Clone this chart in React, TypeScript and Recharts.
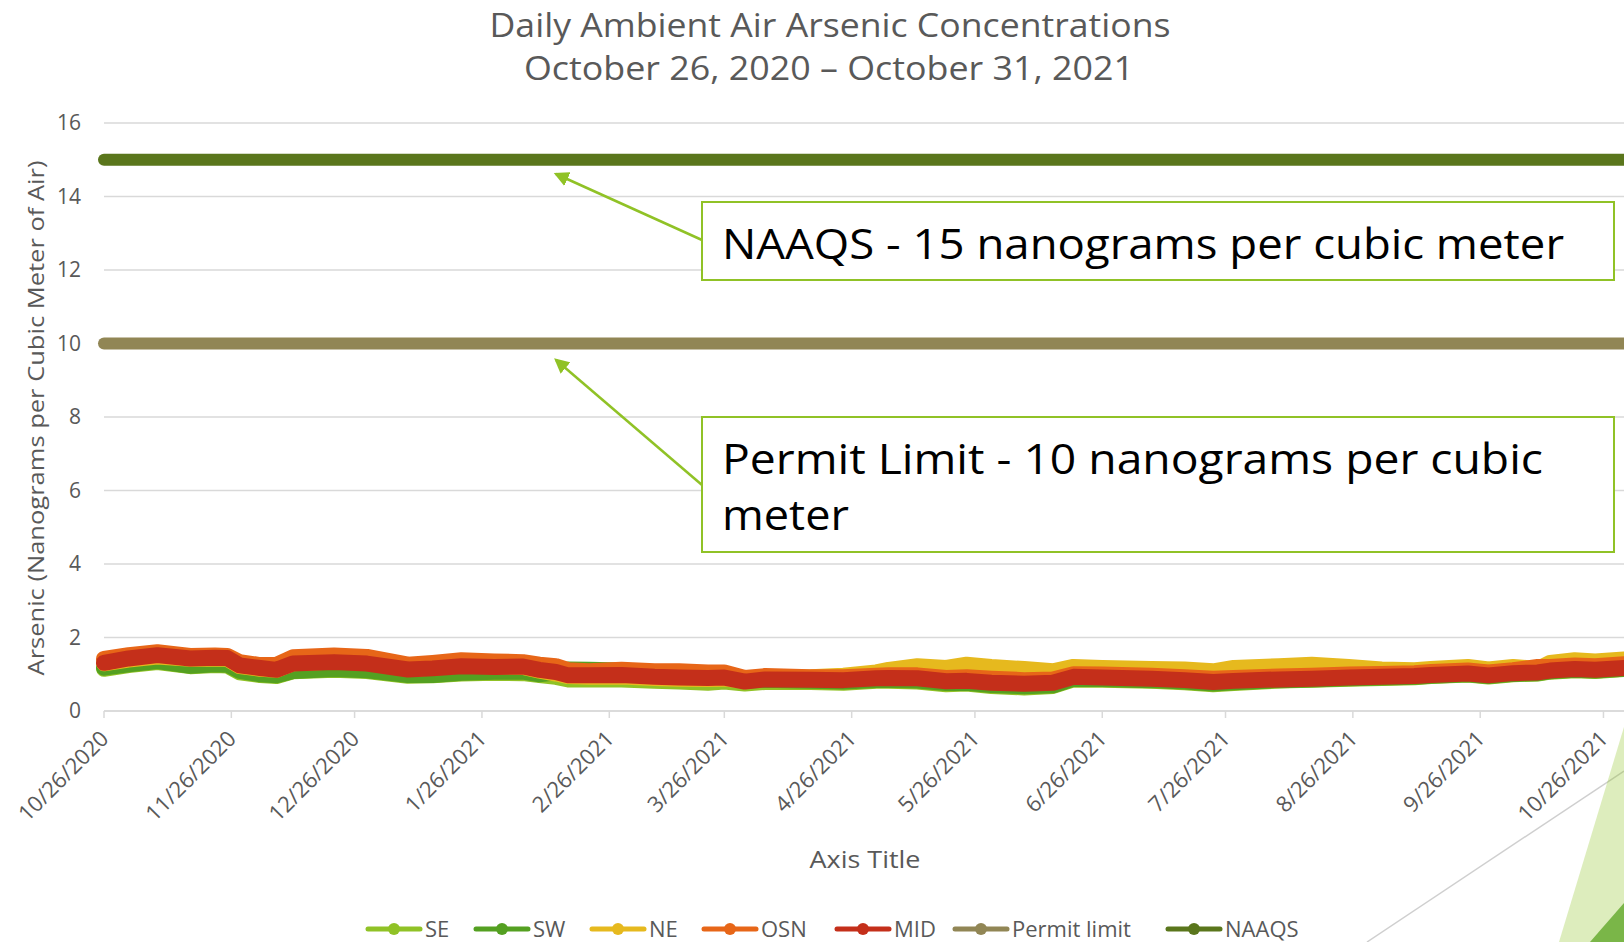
import { LineChart, Line, XAxis, YAxis, CartesianGrid } from "recharts";

// sample dates (read off the picture roughly weekly)
const sampleDates = [
  "10/26/2020", "11/1/2020", "11/8/2020", "11/16/2020", "11/22/2020", "11/25/2020", "11/28/2020",
  "12/3/2020", "12/7/2020", "12/11/2020", "12/21/2020", "12/29/2020", "1/8/2021", "1/14/2021",
  "1/21/2021", "1/29/2021", "2/5/2021", "2/9/2021", "2/13/2021", "2/16/2021", "2/21/2021",
  "3/1/2021", "3/9/2021", "3/15/2021", "3/22/2021", "3/26/2021", "3/31/2021", "4/5/2021",
  "4/16/2021", "4/24/2021", "5/2/2021", "5/5/2021", "5/12/2021", "5/19/2021", "5/24/2021",
  "5/30/2021", "6/7/2021", "6/14/2021", "6/19/2021", "6/26/2021", "7/8/2021", "7/16/2021",
  "7/23/2021", "7/28/2021", "8/8/2021", "8/16/2021", "8/25/2021", "9/2/2021", "9/10/2021",
  "9/14/2021", "9/23/2021", "9/28/2021", "10/4/2021", "10/10/2021", "10/13/2021", "10/19/2021",
  "10/24/2021", "10/31/2021",
];

const midValues = [
  1.31, 1.43, 1.52, 1.43, 1.45, 1.44, 1.24, 1.17, 1.12, 1.29, 1.33, 1.29, 1.13, 1.16,
  1.22, 1.20, 1.21, 1.12, 1.06, 0.97, 0.97, 0.98, 0.93, 0.91, 0.90, 0.91, 0.80, 0.86,
  0.85, 0.84, 0.89, 0.90, 0.89, 0.81, 0.82, 0.77, 0.74, 0.77, 0.93, 0.91, 0.88, 0.84,
  0.79, 0.82, 0.86, 0.88, 0.91, 0.93, 0.95, 0.98, 1.02, 0.97, 1.03, 1.05, 1.10, 1.14,
  1.12, 1.17,
];
const osnValues = [
  1.42, 1.52, 1.60, 1.50, 1.51, 1.50, 1.33, 1.25, 1.26, 1.46, 1.51, 1.47, 1.26, 1.31,
  1.38, 1.35, 1.33, 1.26, 1.22, 1.11, 1.08, 1.12, 1.08, 1.08, 1.05, 1.05, 0.90, 0.95,
  0.92, 0.92, 0.96, 0.97, 0.97, 0.90, 0.92, 0.88, 0.84, 0.86, 1.00, 0.99, 0.96, 0.92,
  0.88, 0.90, 0.94, 0.96, 0.99, 1.01, 1.03, 1.06, 1.10, 1.05, 1.11, 1.20, 1.20, 1.24,
  1.22, 1.27,
];
const neValues = [
  1.30, 1.40, 1.48, 1.42, 1.43, 1.42, 1.22, 1.15, 1.12, 1.30, 1.35, 1.32, 1.15, 1.18,
  1.24, 1.22, 1.20, 1.10, 1.02, 0.95, 0.93, 0.94, 0.90, 0.88, 0.87, 0.88, 0.82, 0.90,
  0.92, 0.96, 1.05, 1.12, 1.22, 1.17, 1.26, 1.20, 1.14, 1.08, 1.20, 1.17, 1.14, 1.13,
  1.08, 1.17, 1.22, 1.26, 1.20, 1.13, 1.11, 1.14, 1.20, 1.13, 1.20, 1.14, 1.31, 1.38,
  1.35, 1.40,
];
const swValues = [
  1.18, 1.27, 1.36, 1.23, 1.27, 1.26, 1.09, 1.00, 0.97, 1.09, 1.14, 1.11, 0.98, 0.98,
  1.04, 1.07, 1.07, 1.00, 1.05, 1.13, 1.12, 1.10, 1.05, 1.02, 0.95, 0.93, 0.82, 0.85,
  0.82, 0.80, 0.84, 0.85, 0.83, 0.76, 0.77, 0.71, 0.67, 0.70, 0.88, 0.87, 0.84, 0.80,
  0.75, 0.78, 0.84, 0.86, 0.89, 0.91, 0.93, 0.96, 1.00, 0.95, 1.01, 1.03, 1.08, 1.12,
  1.10, 1.15,
];
const seValues = [
  1.15, 1.25, 1.33, 1.22, 1.25, 1.24, 1.05, 0.98, 0.95, 1.08, 1.12, 1.09, 0.96, 0.97,
  1.02, 1.04, 1.03, 0.98, 0.93, 0.86, 0.86, 0.86, 0.82, 0.80, 0.77, 0.80, 0.75, 0.79,
  0.79, 0.77, 0.82, 0.82, 0.80, 0.73, 0.75, 0.68, 0.64, 0.68, 0.86, 0.85, 0.82, 0.78,
  0.73, 0.76, 0.83, 0.85, 0.88, 0.90, 0.92, 0.95, 0.99, 0.94, 1.00, 1.02, 1.07, 1.11,
  1.09, 1.14,
];
const permitLimit = 10;
const naaqsLimit = 15;

const tickDates = [
  "10/26/2020", "11/26/2020", "12/26/2020", "1/26/2021", "2/26/2021", "3/26/2021", "4/26/2021",
  "5/26/2021", "6/26/2021", "7/26/2021", "8/26/2021", "9/26/2021", "10/26/2021",
];
const yTicks = [0, 2, 4, 6, 8, 10, 12, 14, 16];
const lastDate = "10/31/2021";

const seriesNames = ["SE", "SW", "NE", "OSN", "MID", "Permit limit", "NAAQS"];
const seriesColors = ["#90C226", "#54A021", "#E6B91E", "#E76618", "#C42F1A", "#918655", "#5A761C"];

const START = Date.UTC(2020, 9, 26);
const dayOf = (s: string) => {
  const [m, d, y] = s.split("/").map(Number);
  return Math.round((Date.UTC(y, m - 1, d) - START) / 86400000);
};

const data = sampleDates.map((d, i) => ({
  day: dayOf(d),
  SE: seValues[i],
  SW: swValues[i],
  NE: neValues[i],
  OSN: osnValues[i],
  MID: midValues[i],
  "Permit limit": permitLimit,
  NAAQS: naaqsLimit,
}));

const tickLabel: Record<number, string> = {};
tickDates.forEach((d) => (tickLabel[dayOf(d)] = d));

const FONT = "'Liberation Sans Narrow', 'Open Sans', sans-serif";
const GREY = "#595959";

function DateTick(props: any) {
  const { x, y, payload } = props;
  return (
    <g transform={`translate(${x + 6},${y + 20})`}>
      <text textAnchor="end" transform="rotate(-45)" fontSize={22} fill={GREY} fontFamily={FONT}>
        {tickLabel[payload.value]}
      </text>
    </g>
  );
}

// legend layout (x of line start)
const legendX = [368, 476, 592, 704, 837, 955, 1168];

export default function App() {
  return (
    <div style={{ position: "relative", width: 1624, height: 942, overflow: "hidden", background: "#fff" }}>
      <style>{"body{margin:0;overflow:hidden}"}</style>
      <LineChart width={1624} height={942} data={data} margin={{ top: 123, right: 0, bottom: 111, left: 44 }}>
        <CartesianGrid vertical={false} stroke="#d9d9d9" strokeWidth={1.5} />
        <XAxis
          type="number"
          dataKey="day"
          domain={[0, dayOf(lastDate)]}
          ticks={tickDates.map(dayOf)}
          interval={0}
          height={120}
          tick={<DateTick />}
          tickSize={7}
          stroke="#d9d9d9"
          axisLine={{ stroke: "#d9d9d9", strokeWidth: 1.5 }}
          tickLine={{ stroke: "#d9d9d9", strokeWidth: 1.5 }}
        />
        <YAxis
          width={60}
          domain={[0, 16]}
          ticks={yTicks}
          axisLine={false}
          tickLine={false}
          tickSize={6}
          tickMargin={17}
          tick={{ fontSize: 21, fill: GREY, fontFamily: FONT }}
        />
        {seriesNames.map((name, i) => (
          <Line
            key={name}
            type="linear"
            dataKey={name}
            stroke={seriesColors[i]}
            strokeWidth={i < 5 ? 16 : 12}
            strokeLinecap="round"
            strokeLinejoin="round"
            dot={false}
            isAnimationActive={false}
          />
        ))}
      </LineChart>
      <svg width={1624} height={942} style={{ position: "absolute", left: 0, top: 0, pointerEvents: "none" }}>
        <defs>
          <marker id="arr" markerWidth="6" markerHeight="6" refX="5" refY="3" orient="auto" markerUnits="strokeWidth">
            <path d="M0,0 L6,3 L0,6 z" fill="#90C226" />
          </marker>
        </defs>
        {/* title */}
        <text x={830} y={37} textAnchor="middle" fontSize={33} fill={GREY} fontFamily={FONT} textLength={681} lengthAdjust="spacingAndGlyphs">
          Daily Ambient Air Arsenic Concentrations
        </text>
        <text x={829} y={80} textAnchor="middle" fontSize={33} fill={GREY} fontFamily={FONT} textLength={610} lengthAdjust="spacingAndGlyphs">
          October 26, 2020 – October 31, 2021
        </text>
        {/* axis titles */}
        <text transform="translate(44,418) rotate(-90)" textAnchor="middle" fontSize={22} fill={GREY} fontFamily={FONT} textLength={515} lengthAdjust="spacingAndGlyphs">
          Arsenic (Nanograms per Cubic Meter of Air)
        </text>
        <text x={865} y={868} textAnchor="middle" fontSize={23} fill={GREY} fontFamily={FONT} textLength={111} lengthAdjust="spacingAndGlyphs">
          Axis Title
        </text>
        {/* annotations */}
        <line x1={702} y1={240} x2={556} y2={174} stroke="#90C226" strokeWidth={2.5} markerEnd="url(#arr)" />
        <line x1={702} y1={485} x2={556} y2={360} stroke="#90C226" strokeWidth={2.5} markerEnd="url(#arr)" />
        <rect x={702} y={202} width={912} height={78} fill="#fff" stroke="#90C226" strokeWidth={2} />
        <text x={722} y={259} fontSize={42} fill="#000" fontFamily={FONT} textLength={842} lengthAdjust="spacingAndGlyphs">
          NAAQS - 15 nanograms per cubic meter
        </text>
        <rect x={702} y={417} width={912} height={135} fill="#fff" stroke="#90C226" strokeWidth={2} />
        <text x={722} y={474} fontSize={42} fill="#000" fontFamily={FONT} textLength={821} lengthAdjust="spacingAndGlyphs">
          Permit Limit - 10 nanograms per cubic
        </text>
        <text x={722} y={530} fontSize={42} fill="#000" fontFamily={FONT} textLength={127} lengthAdjust="spacingAndGlyphs">
          meter
        </text>
        {/* legend */}
        {seriesNames.map((name, i) => (
          <g key={name}>
            <line x1={legendX[i]} y1={929} x2={legendX[i] + 52} y2={929} stroke={seriesColors[i]} strokeWidth={5} strokeLinecap="round" />
            <circle cx={legendX[i] + 26} cy={929} r={6} fill={seriesColors[i]} />
            <text x={legendX[i] + 57} y={937} fontSize={22} fill={GREY} fontFamily={FONT}>
              {name}
            </text>
          </g>
        ))}
        {/* slide decoration */}
        <line x1={1367} y1={942} x2={1624} y2={771} stroke="#cfcfcf" strokeWidth={1.5} />
        <polygon points="1624,727 1559,942 1624,942" fill="#90C226" fillOpacity={0.3} />
        <polygon points="1590,942 1624,903 1624,942" fill="#7AB648" />
      </svg>
    </div>
  );
}
